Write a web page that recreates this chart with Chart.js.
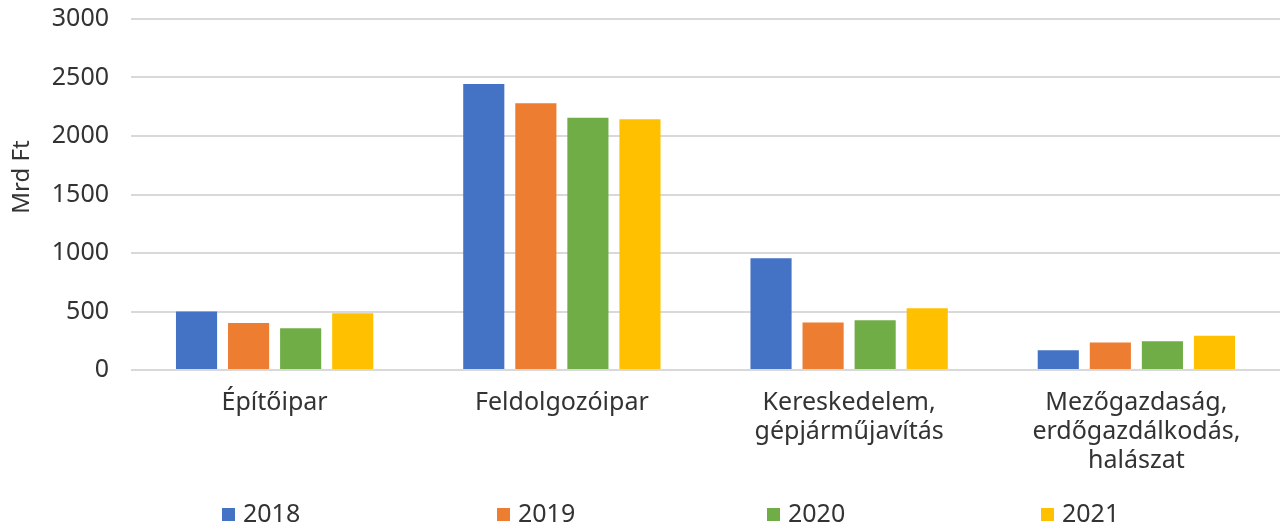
<!DOCTYPE html>
<html>
<head>
<meta charset="utf-8">
<script src="https://cdn.jsdelivr.net/npm/chart.js@4/dist/chart.umd.min.js"></script>
<style>
  html, body { margin: 0; padding: 0; background: #fff; }
  #wrap { width: 1280px; height: 527px; }
</style>
</head>
<body>
<div id="wrap"><canvas id="sectorChart"></canvas></div>
<script>
const categories = [
  "Építőipar",
  "Feldolgozóipar",
  ["Kereskedelem,", "gépjárműjavítás"],
  ["Mezőgazdaság,", "erdőgazdálkodás,", "halászat"]
];
const years = ["2018", "2019", "2020", "2021"];
const values2018 = [500, 2445, 955, 168];
const values2019 = [402, 2280, 407, 234];
const values2020 = [356, 2155, 425, 245];
const values2021 = [485, 2143, 527, 293];
const yTicks = [0, 500, 1000, 1500, 2000, 2500, 3000];
const colors = ["#4472C4", "#ED7D31", "#70AD47", "#FFC000"];
const yTitle = "Mrd Ft";

const fontFamily = "'Noto Sans', 'Open Sans', sans-serif";
const textColor = "#333333";

// legend spread out across the bottom like the original, plus the y title
const extras = {
  id: "extras",
  afterDraw(chart) {
    const ctx = chart.ctx;
    const y = chart.height - 13;
    const xs = [222, 497, 767, 1041];
    ctx.save();
    ctx.font = "25px " + fontFamily;
    ctx.textBaseline = "middle";
    chart.data.datasets.forEach((ds, i) => {
      ctx.fillStyle = ds.backgroundColor;
      ctx.fillRect(xs[i], y - 6, 13, 13);
      ctx.fillStyle = textColor;
      ctx.fillText(ds.label, xs[i] + 21, y + 1);
    });
    // y axis title
    ctx.font = "24px " + fontFamily;
    ctx.textAlign = "center";
    ctx.translate(22, 177);
    ctx.rotate(-Math.PI / 2);
    ctx.fillText(yTitle, 0, 0);
    ctx.restore();
  }
};

const seriesValues = [values2018, values2019, values2020, values2021];

new Chart(document.getElementById("sectorChart").getContext("2d"), {
  type: "bar",
  data: {
    labels: categories,
    datasets: years.map((yr, i) => ({
      label: yr,
      data: seriesValues[i],
      backgroundColor: colors[i],
      borderWidth: 0,
      categoryPercentage: 0.725,
      barPercentage: 0.79
    }))
  },
  options: {
    responsive: true,
    maintainAspectRatio: false,
    animation: false,
    layout: { padding: { top: 19, right: 0, bottom: 52, left: 8 } },
    plugins: {
      legend: { display: false },
      tooltip: { enabled: false }
    },
    scales: {
      x: {
        grid: { display: false, drawTicks: false },
        border: { display: false },
        afterFit: (axis) => { axis.height = 105; },
        ticks: {
          color: textColor,
          font: { family: fontFamily, size: 25, lineHeight: 1.16 },
          padding: 18,
          maxRotation: 0,
          autoSkip: false
        }
      },
      y: {
        min: 0,
        max: 3000,
        afterBuildTicks: (axis) => { axis.ticks = yTicks.map(v => ({ value: v })); },
        afterFit: (axis) => {
          axis.paddingTop = 0;
          axis.paddingBottom = 0;
          axis.width = 123;
        },
        grid: { color: "#d9d9d9", lineWidth: 2, drawTicks: false },
        border: { display: false },
        ticks: {
          color: textColor,
          font: { family: fontFamily, size: 25 },
          padding: 22,
          callback: (v) => String(v)
        }
      }
    }
  },
  plugins: [extras]
});
</script>
</body>
</html>
